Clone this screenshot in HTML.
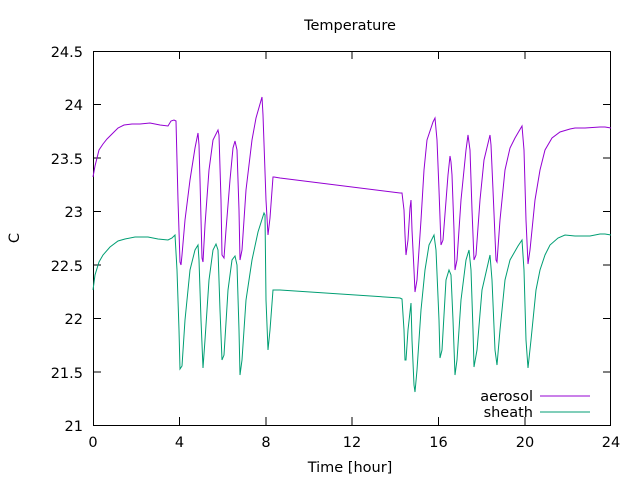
<!DOCTYPE html><html><head><style>body{margin:0;background:#fff}</style></head><body>
<svg width="640" height="480" xmlns="http://www.w3.org/2000/svg" font-family="DejaVu Sans, sans-serif" font-size="14.5">
<rect width="640" height="480" fill="#fff"/>
<g stroke="#000" stroke-width="1" fill="none">
<rect x="93.5" y="51.5" width="517" height="374"/>
<path d="M93,104.5h8M93,158h8M93,211.5h8M93,265h8M93,318.5h8M93,372h8M611,104.5h-8M611,158h-8M611,211.5h-8M611,265h-8M611,318.5h-8M611,372h-8"/>
<path d="M179.5,425v-8M266,425v-8M352,425v-8M438.5,425v-8M525,425v-8M179.5,51v8M266,51v8M352,51v8M438.5,51v8M525,51v8"/>
</g>
<g text-anchor="end" fill="#000">
<text x="83" y="57">24.5</text><text x="83" y="110">24</text><text x="83" y="164">23.5</text><text x="83" y="217">23</text><text x="83" y="271">22.5</text><text x="83" y="324">22</text><text x="83" y="378">21.5</text><text x="83" y="431">21</text>
</g>
<g text-anchor="middle" fill="#000">
<text x="93" y="447">0</text><text x="179.5" y="447">4</text><text x="266" y="447">8</text><text x="352" y="447">12</text><text x="438.5" y="447">16</text><text x="525" y="447">20</text><text x="611" y="447">24</text>
<text x="350" y="30">Temperature</text>
<text x="350" y="472">Time [hour]</text>
<text transform="translate(19,238) rotate(-90)">C</text>
</g>
<g text-anchor="end" fill="#000"><text x="533" y="401">aerosol</text><text x="533" y="417">sheath</text></g>
<path d="M540,396H590" stroke="#9400d3"/><path d="M540,412H590" stroke="#009e73"/>
<polyline fill="none" stroke="#9400d3" stroke-width="1" points="93,177 95,166 99,150 103,144 107,139 113,133 118,128 124,125 132,124 140,124 150,123 160,125 168,126 171,121 174,120 176,121 178,200 180,262 181,265 182,255 185,220 190,180 195,148 198,133 199,145 200,180 202,258 203,262 205,225 209,170 213,140 218,130 219,135 221,200 222,255 224,258 226,230 230,180 233,148 235,141 237,150 239,210 240,260 242,250 246,190 252,140 256,118 260,104 262,97 263,115 266,200 268,235 270,218 273,177 274,177 280,178 400,193 402,193 404,210 405,235 406,255 408,240 410,208 411,200 412,230 414,270 415,292 417,280 421,220 424,170 427,140 433,122 435,118 437,140 439,190 441,245 443,240 448,175 450,156 451,162 452,175 454,230 455,270 457,260 461,200 466,150 468,135 470,150 472,210 474,260 476,255 480,200 484,160 490,135 491,145 493,190 496,260 497,262 500,220 505,170 510,148 515,138 522,126 524,150 526,220 528,264 530,250 535,200 540,170 545,150 552,138 560,132 570,129 575,128 585,128 600,127 605,127 611,128"/>
<polyline fill="none" stroke="#009e73" stroke-width="1" points="93,290 95,275 99,262 103,255 110,247 118,241 125,239 135,237 148,237 158,239 168,240 172,238 175,235 177,270 179,330 180,369 182,366 185,320 190,270 195,250 198,245 199,260 201,320 203,368 205,340 209,280 213,250 216,244 218,250 220,310 222,360 224,355 228,290 232,260 235,256 237,265 239,330 240,375 242,360 246,300 252,260 258,232 264,213 265,215 266,300 268,350 270,330 273,290 274,290 280,290 400,298 402,299 404,330 405,360 406,360 408,330 411,303 412,340 414,385 415,392 417,370 421,310 425,270 429,245 434,235 436,250 439,320 440,358 442,350 446,280 449,270 451,275 453,320 455,375 457,360 461,300 466,260 469,250 471,270 473,330 474,367 477,350 482,290 490,255 492,280 495,350 497,365 500,330 505,280 510,260 518,246 522,240 524,270 526,340 528,368 531,340 536,290 540,270 545,255 550,245 558,238 565,235 575,236 590,236 600,234 605,234 611,235"/>
</svg></body></html>
